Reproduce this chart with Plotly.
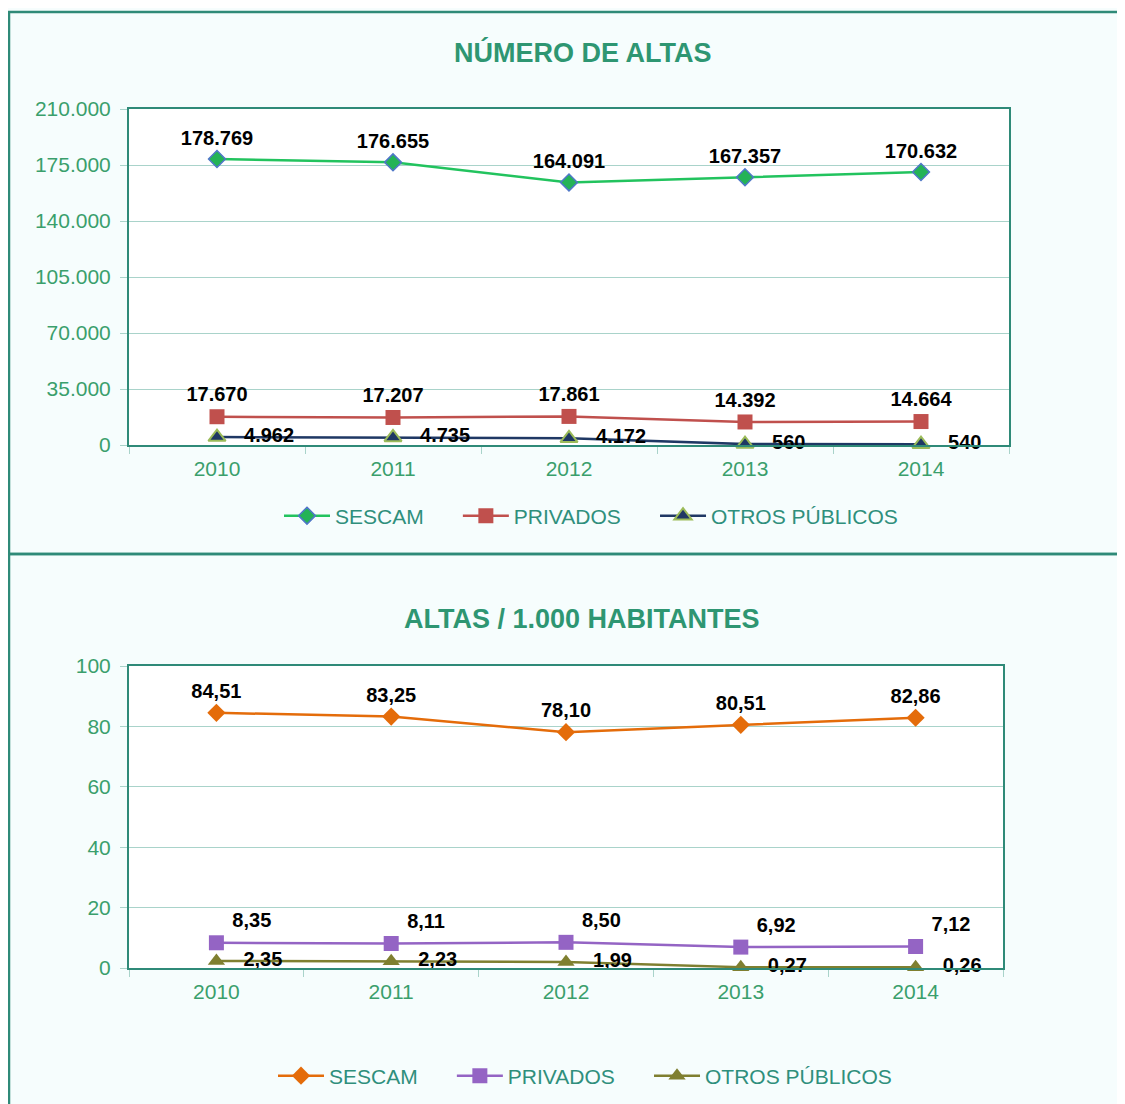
import plotly.graph_objects as go

years = ["2010", "2011", "2012", "2013", "2014"]

altas_sescam = [178769, 176655, 164091, 167357, 170632]
altas_privados = [17670, 17207, 17861, 14392, 14664]
altas_otros = [4962, 4735, 4172, 560, 540]

tasa_sescam = [84.51, 83.25, 78.10, 80.51, 82.86]
tasa_privados = [8.35, 8.11, 8.50, 6.92, 7.12]
tasa_otros = [2.35, 2.23, 1.99, 0.27, 0.26]

title1 = "NÚMERO DE ALTAS"
title2 = "ALTAS / 1.000 HABITANTES"
series_names = ["SESCAM", "PRIVADOS", "OTROS PÚBLICOS"]


def fmt_int(v):
    return f"{v:,}".replace(",", ".")


def fmt_dec(v):
    return f"{v:.2f}".replace(".", ",")


FONT = "Liberation Sans, Arial, sans-serif"
FRAME = "#2f8a78"
GRID = "#a9d3ca"
TICKC = "#3a9f6c"
LEGC = "#2f8f7c"
TITLEC = "#2e9672"
# page has 8px body margin on top/left; figure runs to the window's right/bottom edges
OFF = 8
W, H = 1125 - OFF, 1104 - OFF


def px(x):
    return (x - OFF) / W


def py(y):
    return 1 - (y - OFF) / H


PAD = "\u00a0" * 5
fig = go.Figure()

lab_font = dict(family=FONT, size=20, color="black")
SP = "\u00a0\u00a0\u00a0"

# --- Chart 1 ---
fig.add_trace(go.Scatter(
    x=years, y=altas_sescam, name=series_names[0] + PAD, mode="lines+markers+text",
    line=dict(color="#22c35e", width=2.5),
    marker=dict(symbol="diamond", size=13, color="#24b356", line=dict(color="#4f77c8", width=1.5)),
    text=[fmt_int(v) for v in altas_sescam], textposition="top center",
    textfont=lab_font, texttemplate="<b>%{text}</b>", cliponaxis=False,
    xaxis="x", yaxis="y", legend="legend"))
fig.add_trace(go.Scatter(
    x=years, y=altas_privados, name=series_names[1] + PAD, mode="lines+markers+text",
    line=dict(color="#c0504d", width=2.5),
    marker=dict(symbol="square", size=15, color="#c0504d"),
    text=[fmt_int(v) for v in altas_privados], textposition="top center",
    textfont=lab_font, texttemplate="<b>%{text}</b>", cliponaxis=False,
    xaxis="x", yaxis="y", legend="legend"))
fig.add_trace(go.Scatter(
    x=years, y=altas_otros, name=series_names[2], mode="lines+markers+text",
    line=dict(color="#1f3864", width=2.5),
    marker=dict(symbol="triangle-up", size=15, color="#1f3864", line=dict(color="#9bbb59", width=2)),
    text=[fmt_int(v) for v in altas_otros], textposition="middle right",
    textfont=lab_font, texttemplate=SP + "<b>%{text}</b>", cliponaxis=False,
    xaxis="x", yaxis="y", legend="legend"))

# --- Chart 2 ---
fig.add_trace(go.Scatter(
    x=years, y=tasa_sescam, name=series_names[0] + PAD, mode="lines+markers+text",
    line=dict(color="#e46c0a", width=2.5),
    marker=dict(symbol="diamond", size=14, color="#e46c0a"),
    text=[fmt_dec(v) for v in tasa_sescam], textposition="top center",
    textfont=lab_font, texttemplate="<b>%{text}</b>", cliponaxis=False,
    xaxis="x2", yaxis="y2", legend="legend2"))
fig.add_trace(go.Scatter(
    x=years, y=tasa_privados, name=series_names[1] + PAD, mode="lines+markers+text",
    line=dict(color="#9464c4", width=2.5),
    marker=dict(symbol="square", size=15, color="#9464c4"),
    text=[fmt_dec(v) for v in tasa_privados], textposition="top right",
    textfont=lab_font, texttemplate="\u00a0<b>%{text}</b>", cliponaxis=False,
    xaxis="x2", yaxis="y2", legend="legend2"))
fig.add_trace(go.Scatter(
    x=years, y=tasa_otros, name=series_names[2], mode="lines+markers+text",
    line=dict(color="#7f7f30", width=2.5),
    marker=dict(symbol="triangle-up", size=15, color="#7f7f30"),
    text=[fmt_dec(v) for v in tasa_otros], textposition="middle right",
    textfont=lab_font, texttemplate=SP + "<b>%{text}</b>", cliponaxis=False,
    xaxis="x2", yaxis="y2", legend="legend2"))

xcommon = dict(type="category", range=[-0.5, 4.5], showgrid=False, showline=True,
               linecolor=FRAME, linewidth=2, mirror=True, ticks="outside",
               tickson="boundaries", ticklen=7, tickcolor=GRID, zeroline=False,
               ticklabelstandoff=4,
               tickfont=dict(family=FONT, size=21, color=TICKC))
ycommon = dict(showgrid=True, gridcolor=GRID, gridwidth=1, showline=True,
               linecolor=FRAME, linewidth=2, mirror=True, ticks="outside",
               ticklen=7, tickcolor=GRID, zeroline=False,
               ticklabelstandoff=5,
               tickfont=dict(family=FONT, size=21, color=TICKC))

legfont = dict(family=FONT, size=21, color=LEGC)

fig.update_layout(
    width=W, height=H,
    margin=dict(l=0, r=0, t=0, b=0, autoexpand=False),
    paper_bgcolor="#f6fdfd", plot_bgcolor="white",
    separators=",.",
    font=dict(family=FONT),
    xaxis=dict(xcommon, domain=[px(129), px(1009)], anchor="y"),
    yaxis=dict(ycommon, domain=[py(445), py(109)], range=[0, 210000],
               dtick=35000, tickformat=",d", anchor="x"),
    xaxis2=dict(xcommon, domain=[px(129), px(1003)], anchor="y2"),
    yaxis2=dict(ycommon, domain=[py(968), py(666)], range=[0, 100],
                dtick=20, anchor="x2"),
    legend=dict(orientation="h", x=px(591), xanchor="center", y=py(516),
                yanchor="middle", bgcolor="rgba(0,0,0,0)", font=legfont,
                itemwidth=46),
    legend2=dict(orientation="h", x=px(585), xanchor="center", y=py(1076),
                 yanchor="middle", bgcolor="rgba(0,0,0,0)", font=legfont,
                 itemwidth=46),
    annotations=[
        dict(text=f"<b>{title1}</b>", x=px(583), y=py(52), xref="paper", yref="paper",
             xanchor="center", yanchor="middle", showarrow=False,
             font=dict(family=FONT, size=27, color=TITLEC)),
        dict(text=f"<b>{title2}</b>", x=px(582), y=py(619), xref="paper", yref="paper",
             xanchor="center", yanchor="middle", showarrow=False,
             font=dict(family=FONT, size=27, color=TITLEC)),
    ],
    shapes=[
        dict(type="rect", xref="paper", yref="paper", x0=px(9), x1=1.05,
             y0=py(554), y1=py(12), line=dict(color=FRAME, width=2.5)),
        dict(type="rect", xref="paper", yref="paper", x0=px(9), x1=1.05,
             y0=-0.05, y1=py(554), line=dict(color=FRAME, width=2.5)),
    ],
)

fig.write_html("out.html")
